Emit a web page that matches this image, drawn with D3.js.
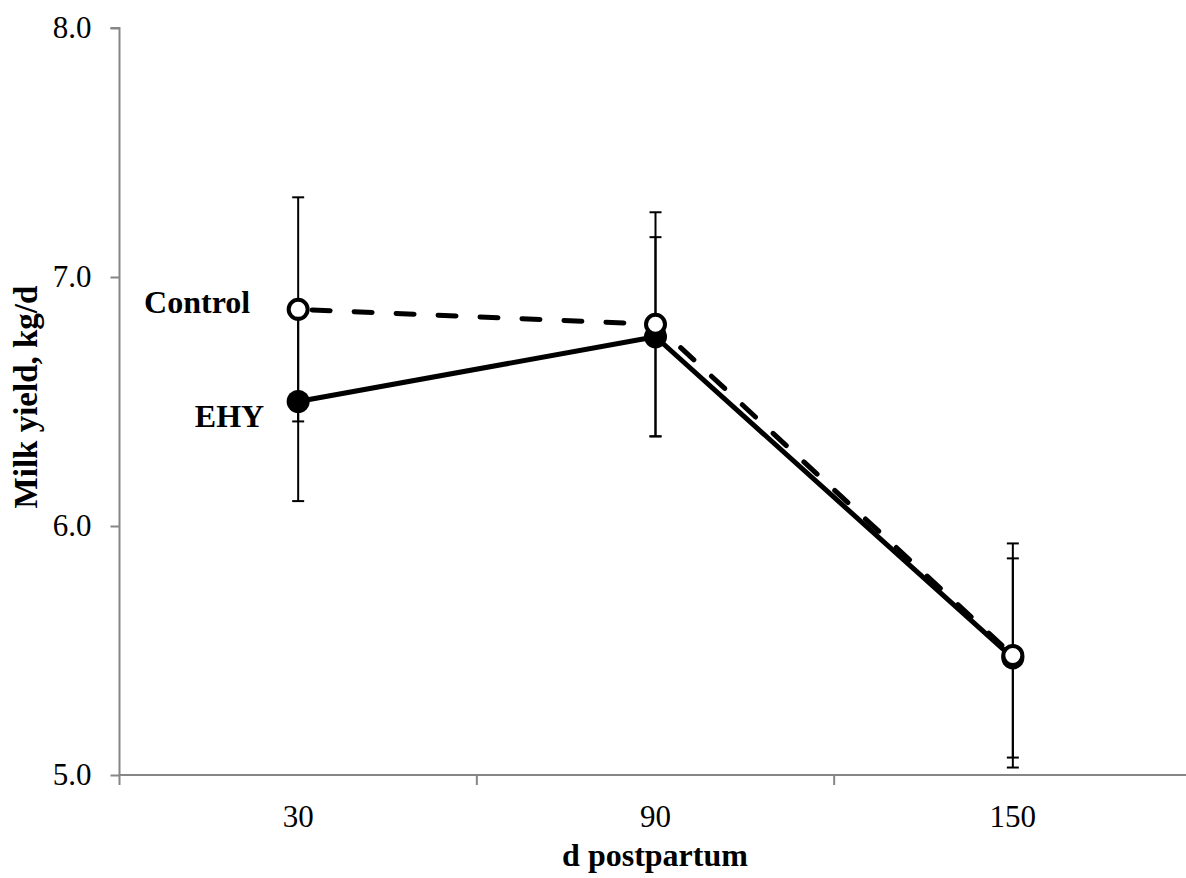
<!DOCTYPE html>
<html>
<head>
<meta charset="utf-8">
<script src="https://cdn.jsdelivr.net/npm/d3@7"></script>
<style>
  html, body { margin: 0; padding: 0; background: #fff; }
  svg { display: block; font-family: "Liberation Serif", "Times New Roman", serif; }
</style>
</head>
<body>
<svg id="chart" width="1186" height="878"></svg>
<script>
// Milk yield by days postpartum for two treatments (mean ± SE)
const days = ["30", "90", "150"];
const controlMean = [6.87, 6.81, 5.48];
const controlSE = [0.45, 0.45, 0.45];
const ehyMean = [6.50, 6.76, 5.47];
const ehySE = [0.40, 0.40, 0.40];
const yTicks = [5.0, 6.0, 7.0, 8.0];

const svg = d3.select("#chart");
const plotLeft = 119.5, plotRight = 1191.5, plotTop = 28, plotBottom = 775;

const x = d3.scaleBand().domain(days).range([plotLeft, plotRight]);
const y = d3.scaleLinear().domain([5, 8]).range([plotBottom, plotTop]);
const cx = d => x(d) + x.bandwidth() / 2;

const axisColor = "#868686";

// Y axis
const yAxis = d3.axisLeft(y).tickValues(yTicks).tickFormat(d3.format(".1f"))
  .tickSize(9).tickPadding(19);
const gy = svg.append("g").attr("transform", `translate(${plotLeft},0)`).call(yAxis);
gy.select(".domain").attr("stroke", axisColor).attr("stroke-width", 2)
  .attr("d", `M-9,${plotTop}H0V${plotBottom}`);
gy.selectAll(".tick line").attr("stroke", axisColor).attr("stroke-width", 2);
gy.selectAll(".tick text").attr("font-size", 31).attr("fill", "#000")
  .attr("font-family", "Liberation Serif");

// X axis: category labels centred in bands, tick marks at band edges
const gx = svg.append("g").attr("transform", `translate(0,${plotBottom})`);
gx.append("line").attr("x1", plotLeft).attr("x2", plotRight).attr("y1", 0).attr("y2", 0)
  .attr("stroke", axisColor).attr("stroke-width", 2);
const edges = days.map(d => x(d)).concat([x(days[days.length - 1]) + x.bandwidth()]);
gx.selectAll("line.edge").data(edges).enter().append("line").attr("class", "edge")
  .attr("x1", d => d).attr("x2", d => d).attr("y1", 0).attr("y2", 10)
  .attr("stroke", axisColor).attr("stroke-width", 2);
gx.selectAll("text.cat").data(days).enter().append("text").attr("class", "cat")
  .attr("x", d => cx(d)).attr("y", 52).attr("text-anchor", "middle")
  .attr("font-size", 31).text(d => d);

// Axis titles
svg.append("text").attr("x", (plotLeft + plotRight) / 2 - 0.5).attr("y", 866)
  .attr("text-anchor", "middle").attr("font-size", 32).attr("font-weight", "bold")
  .text("d postpartum");
svg.append("text").attr("transform", "translate(37,397) rotate(-90)")
  .attr("text-anchor", "middle").attr("font-size", 33).attr("font-weight", "bold")
  .text("Milk yield, kg/d");

const line = d3.line().x((d, i) => cx(days[i])).y(d => y(d));

// Error bars for both groups
function errorBars(means, ses) {
  const g = svg.append("g").attr("stroke", "#000").attr("stroke-width", 2);
  means.forEach((m, i) => {
    const px = cx(days[i]);
    const hi = y(m + ses[i]), lo = y(m - ses[i]);
    g.append("line").attr("x1", px).attr("x2", px).attr("y1", hi).attr("y2", lo);
    g.append("line").attr("x1", px - 6).attr("x2", px + 6).attr("y1", hi).attr("y2", hi);
    g.append("line").attr("x1", px - 6).attr("x2", px + 6).attr("y1", lo).attr("y2", lo);
  });
}
errorBars(ehyMean, ehySE);
errorBars(controlMean, controlSE);

// EHY: solid line, filled markers
svg.append("path").datum(ehyMean).attr("d", line).attr("fill", "none")
  .attr("stroke", "#000").attr("stroke-width", 5).attr("stroke-linejoin", "round");
svg.selectAll("circle.ehy").data(ehyMean).enter().append("circle").attr("class", "ehy")
  .attr("cx", (d, i) => cx(days[i])).attr("cy", d => y(d)).attr("r", 11.5)
  .attr("fill", "#000");

// Control: dashed line, open markers
svg.append("path").datum(controlMean).attr("d", line).attr("fill", "none")
  .attr("stroke", "#000").attr("stroke-width", 5).attr("stroke-linecap", "round")
  .attr("stroke-dasharray", "18 24").attr("stroke-dashoffset", -14);
svg.selectAll("circle.ctl").data(controlMean).enter().append("circle").attr("class", "ctl")
  .attr("cx", (d, i) => cx(days[i])).attr("cy", d => y(d)).attr("r", 9.5)
  .attr("fill", "#fff").attr("stroke", "#000").attr("stroke-width", 4);

// Series labels beside the first points
svg.append("text").attr("x", cx(days[0]) - 48).attr("y", y(controlMean[0]) + 3.5)
  .attr("text-anchor", "end").attr("font-size", 32).attr("font-weight", "bold")
  .text("Control");
svg.append("text").attr("x", cx(days[0]) - 34).attr("y", y(ehyMean[0]) + 25)
  .attr("text-anchor", "end").attr("font-size", 32).attr("font-weight", "bold")
  .text("EHY");
</script>
</body>
</html>
